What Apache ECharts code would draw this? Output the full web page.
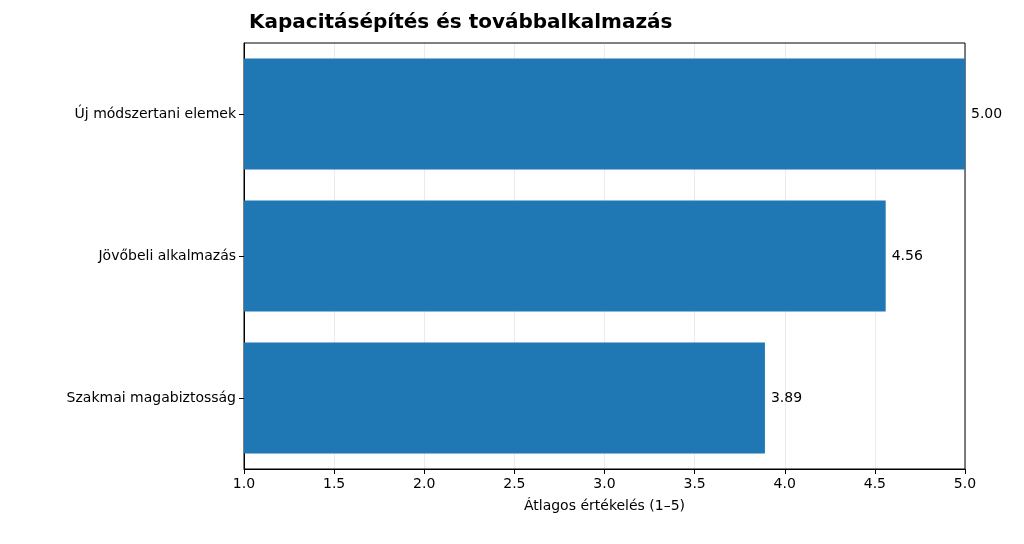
<!DOCTYPE html>
<html><head><meta charset="utf-8">
<script src="https://cdn.jsdelivr.net/npm/echarts@6/dist/echarts.min.js"></script>
<style>html,body{margin:0;padding:0;background:#fff}#c{width:1024px;height:544px}</style>
</head><body><div id="c"></div>
<script>
const categories = ["Szakmai magabiztosság", "Jövőbeli alkalmazás", "Új módszertani elemek"];
const values = [3.89, 4.56, 5.00];
const xTicks = [1.0, 1.5, 2.0, 2.5, 3.0, 3.5, 4.0, 4.5, 5.0];
const chart = echarts.init(document.getElementById('c'));
const F = 'DejaVu Sans';
chart.setOption({
  animation: false,
  title: { text: 'Kapacitásépítés és továbbalkalmazás', left: 244, top: 8,
    textStyle: { fontFamily: F, fontSize: 20, fontWeight: 'bold', color: '#000' } },
  grid: { left: 244, right: 59, top: 43, bottom: 75 },
  xAxis: { type: 'value', min: 1, max: 5, interval: 0.5,
    name: 'Átlagos értékelés (1–5)', nameLocation: 'middle', nameGap: 30,
    nameTextStyle: { fontFamily: F, fontSize: 14, color: '#000' },
    axisLine: { show: true, lineStyle: { color: '#000' } },
    axisTick: { show: true, length: 5, lineStyle: { color: '#000' } },
    axisLabel: { fontFamily: F, fontSize: 14, color: '#000', margin: 8, formatter: v => v.toFixed(1) },
    splitLine: { show: true, lineStyle: { color: '#ebebeb', width: 1 } } },
  yAxis: { type: 'category', data: categories,
    axisLine: { show: true, lineStyle: { color: '#000' } },
    axisTick: { show: true, length: 5, alignWithLabel: true, lineStyle: { color: '#000' } },
    axisLabel: { fontFamily: F, fontSize: 14, color: '#000', margin: 8 } },
  series: [{ type: 'bar', data: values, barCategoryGap: '22%', itemStyle: { color: '#1f77b4' },
    label: { show: true, position: 'right', distance: 6, fontFamily: F, fontSize: 14, color: '#000',
      formatter: p => p.value.toFixed(2) } },
   { type: 'line', data: [], markLine: {} }]
});
// box border
chart.setOption({ graphic: [{ type: 'rect', shape: { x: 244, y: 43, width: 721, height: 426 },
  style: { fill: 'none', stroke: '#000', lineWidth: 1 }, silent: true }] });
</script></body></html>
